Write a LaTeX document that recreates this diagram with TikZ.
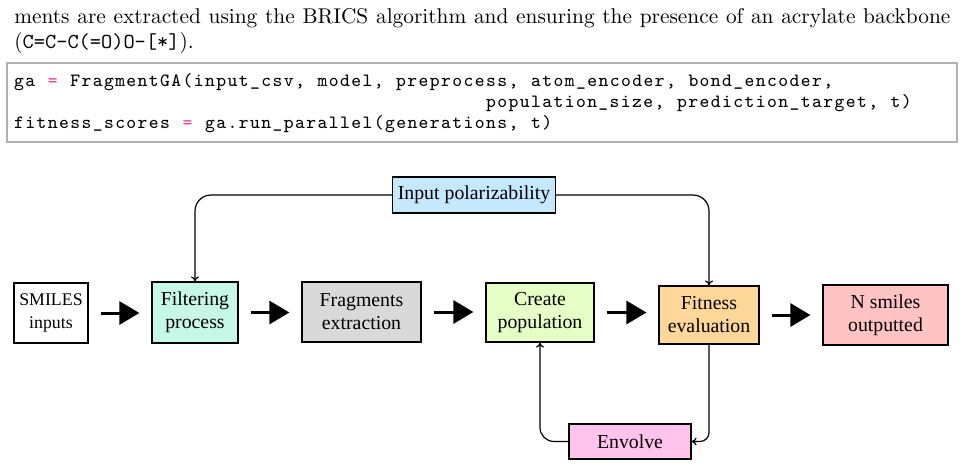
\documentclass[tikz,border=0pt]{standalone}
\usepackage{fontspec}
\newfontfamily\diagfont{Liberation Serif}
\usetikzlibrary{arrows.meta}
\definecolor{cfilt}{HTML}{C6F7E7}
\definecolor{cfrag}{HTML}{D9D9D9}
\definecolor{ccreate}{HTML}{E6FFC6}
\definecolor{cfit}{HTML}{FFD79A}
\definecolor{cnsm}{HTML}{FFC3C3}
\definecolor{cenv}{HTML}{FFC3EC}
\definecolor{cpol}{HTML}{C6E8FF}
\definecolor{cpink}{HTML}{E8459A}
\newcommand\pe{\textcolor{cpink}{=}}
\makeatletter
\newcommand\cwd{5.62pt}
\def\cl@end{\cl@end}
\def\codechars#1{\cl@loop#1\cl@end}
\def\cl@loop#1{\ifx#1\cl@end\else\hbox to\cwd{\hss#1\hss}\expandafter\cl@loop\fi}
\makeatother
\tikzset{
  box/.style={draw, line width=0.6pt, font=\diagfont\fontsize{9.9}{11.5}\selectfont, align=center, inner sep=0pt, text=black},
  bigarrow/.style={line width=1.5pt, -{Triangle[length=10pt,width=11.5pt]}, shorten <=6pt, shorten >=6pt},
  conn/.style={line width=0.6pt, -{To[length=2.5pt,width=4pt]}},
  codeline/.style={anchor=base west, inner sep=0pt, font=\ttfamily\fontsize{9.37}{11}\selectfont},
  textline/.style={anchor=base west, inner sep=0pt, font=\fontsize{10.67}{12.8}\selectfont}
}
\begin{document}
\begin{tikzpicture}[x=0.5pt,y=-0.5pt]
\useasboundingbox (0,0) rectangle (962,466);
% paragraph text
\node[textline] (l1) at (14,23) {\makebox[468pt][s]{ments are extracted using the BRICS algorithm and ensuring the presence of an acrylate backbone}};
\node[textline] (l2) at (14,48) {(\texttt{C=C-C(=O)O-[*]}).};
% code listing
\node[draw=gray!60, line width=0.6pt, minimum width=475pt, minimum height=39.5pt, inner sep=0pt] (codebox) at (482,102.5) {};
\node[codeline] (c1) at (13,86) {\codechars{ga~\pe~FragmentGA(input\_csv,~model,~preprocess,~atom\_encoder,~bond\_encoder,}};
\node[codeline] (c2) at (485,107) {\codechars{population\_size,~prediction\_target,~t)}};
\node[codeline] (c3) at (13,128) {\codechars{fitness\_scores~\pe~ga.run\_parallel(generations,~t)}};
% diagram
\node[box, font=\diagfont\fontsize{8.9}{11.5}\selectfont, minimum width=37pt, minimum height=30pt] (smiles) at (51,313) {SMILES\\inputs};
\node[box, fill=cfilt, minimum width=43pt, minimum height=30.5pt] (filt) at (195,312.5) {Filtering\\process};
\node[box, fill=cfrag, minimum width=59.5pt, minimum height=30pt] (frag) at (361.5,312) {Fragments\\extraction};
\node[box, fill=ccreate, minimum width=54pt, minimum height=29.5pt] (create) at (540,312.5) {Create\\population};
\node[box, fill=cfit, minimum width=50pt, minimum height=29pt] (fit) at (709,315) {Fitness\\evaluation};
\node[box, fill=cnsm, minimum width=62.5pt, minimum height=30pt] (nsm) at (885.5,315) {N smiles\\outputted};
\node[box, fill=cpol, minimum width=81.5pt, minimum height=18pt] (pol) at (474,195) {Input polarizability};
\node[box, fill=cenv, minimum width=61pt, minimum height=17.5pt] (env) at (630,441.5) {Envolve};
\draw[bigarrow] (smiles.east) -- (smiles.east -| filt.west);
\draw[bigarrow] (filt.east) -- (filt.east -| frag.west);
\draw[bigarrow] (frag.east) -- (frag.east -| create.west);
\draw[bigarrow] (create.east) -- (create.east -| fit.west);
\draw[bigarrow] (fit.east) -- (fit.east -| nsm.west);
\draw[conn, rounded corners=8pt] (pol.west) -| (filt.north);
\draw[conn, rounded corners=8pt] (pol.east) -| (fit.north);
\draw[conn, rounded corners=4.5pt] (fit.south) |- (env.east);
\draw[conn, rounded corners=7pt] (env.west) -| (create.south);
\end{tikzpicture}
\end{document}
